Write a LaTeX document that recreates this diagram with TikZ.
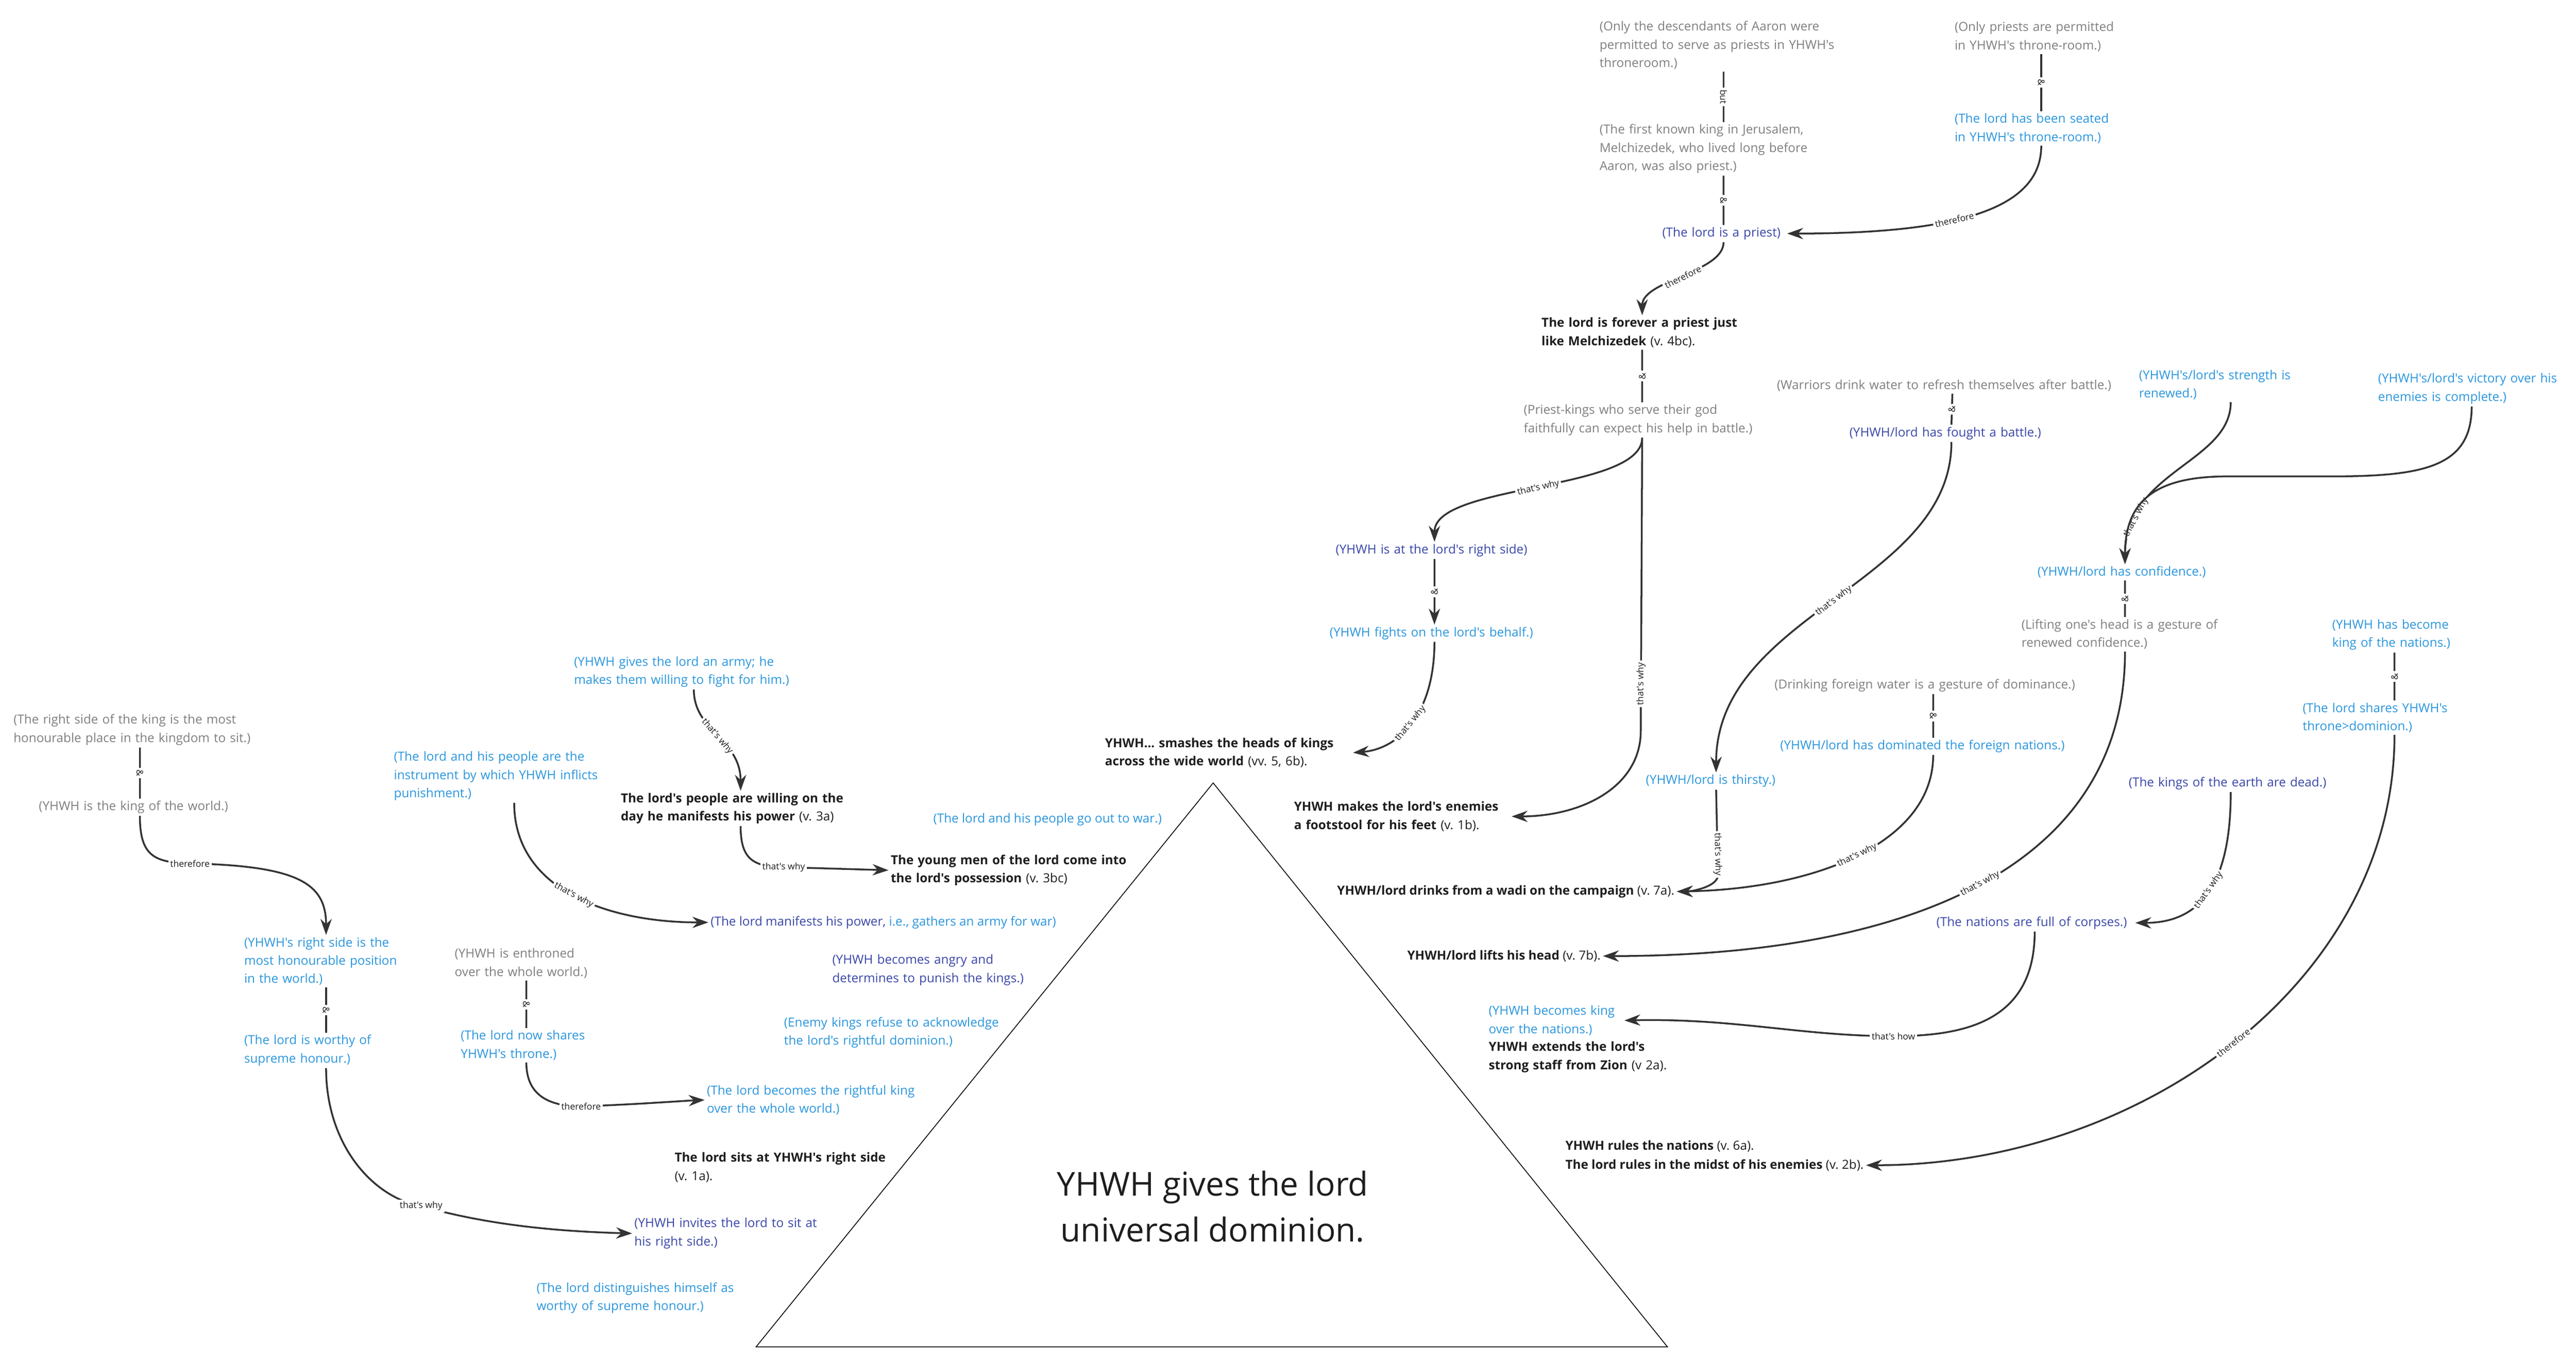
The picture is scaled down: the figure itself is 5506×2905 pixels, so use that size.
\documentclass[tikz,border=0pt]{standalone}
\usepackage{fontspec}
\setmainfont{Open Sans}[Ligatures=TeXOff]
\usepackage{tikz}
\usetikzlibrary{arrows.meta}
\frenchspacing

\definecolor{greytxt}{HTML}{7F7F7F}
\definecolor{paleblue}{HTML}{2B96DC}
\definecolor{deepblue}{HTML}{3A47A8}
\definecolor{inktxt}{HTML}{1E1E1E}
\definecolor{linkcol}{HTML}{333333}

\tikzset{
  txt/.style={anchor=base west, inner sep=0pt, outer sep=0.5mm, align=left,
    font=\fontsize{7.6}{11.1}\selectfont, execute at begin node={\hyphenpenalty=10000}},
  greynote/.style={txt, text=greytxt},
  palenote/.style={txt, text=paleblue},
  deepnote/.style={txt, text=deepblue},
  claim/.style={txt, text=inktxt},
  link/.style={draw=linkcol, line width=1.1pt},
  arr/.style={link, -{Stealth[length=3.4mm,width=2.4mm]}},
  lbl/.style={font=\fontsize{5.5}{6}\selectfont, fill=white, inner sep=1.2pt, sloped, text=inktxt},
}

\begin{document}
\begin{tikzpicture}[x=0.1mm, y=-0.1mm]
      \useasboundingbox (0,0) rectangle (5506,2905);
      \draw[line width=0.5pt] (2593,1673) -- (3564,2878) -- (1616,2878) -- cycle;
      \node[font=\fontsize{20}{28}\selectfont, align=center, text=inktxt] (dominion) at (2592,2578) {YHWH gives the lord\\universal dominion.};

      \node[greynote, text width=53mm] (onlyaaron) at (3414,66) {(Only the descendants of Aaron were\\permitted to serve as priests in YHWH's\\throneroom.)};
      \node[greynote, text width=37mm] (onlypriests) at (4173,67) {(Only priests are permitted\\in YHWH's throne-room.)};
      \node[greynote, text width=53mm] (firstking) at (3414,286) {(The first known king in Jerusalem,\\Melchizedek, who lived long before\\Aaron, was also priest.)};
      \node[palenote, text width=37mm] (seated) at (4173,263) {(The lord has been seated\\in YHWH's throne-room.)};
      \node[deepnote, text width=26.2mm] (priest) at (3548,506) {(The lord is a priest)};
      \node[claim, text width=43mm] (forever) at (3290,699) {\textbf{The lord is forever a priest just}\\\textbf{like Melchizedek} (v. 4bc).};
      \node[greynote, text width=50.6mm] (priestkings) at (3252,885) {(Priest-kings who serve their god\\faithfully can expect his help in battle.)};
      \node[greynote, text width=75mm] (warriors) at (3793,832) {(Warriors drink water to refresh themselves after battle.)};
      \node[deepnote, text width=43.6mm] (fought) at (3948,933) {(YHWH/lord has fought a battle.)};
      \node[deepnote, text width=42.2mm] (rightside) at (2850,1183) {(YHWH is at the lord's right side)};
      \node[palenote, text width=44.8mm] (fights) at (2837,1360) {(YHWH fights on the lord's behalf.)};
      \node[claim, text width=52.5mm] (smashes) at (2357,1597) {\textbf{YHWH... smashes the heads of kings}\\\textbf{across the wide world} (vv. 5, 6b).};
      \node[claim, text width=46mm] (footstool) at (2761,1733) {\textbf{YHWH makes the lord's enemies}\\\textbf{a footstool for his feet} (v. 1b).};
      \node[palenote, text width=30mm] (thirsty) at (3513,1676) {(YHWH/lord is thirsty.)};
      \node[greynote, text width=67.8mm] (drinkingwater) at (3788,1472) {(Drinking foreign water is a gesture of dominance.)};
      \node[palenote, text width=65.4mm] (dominated) at (3800,1602) {(YHWH/lord has dominated the foreign nations.)};
      \node[claim] (wadi) at (2853,1912) {\textbf{YHWH/lord drinks from a wadi on the campaign} (v. 7a).};

      \node[palenote, text width=39.2mm] (strength) at (4567,811) {(YHWH's/lord's strength is\\renewed.)};
      \node[palenote, text width=40mm] (victory) at (5078,818) {(YHWH's/lord's victory over his\\enemies is complete.)};
      \node[palenote, text width=37.4mm] (confidence) at (4350,1231) {(YHWH/lord has confidence.)};
      \node[greynote, text width=44.2mm] (liftinghead) at (4316,1344) {(Lifting one's head is a gesture of\\renewed confidence.)};
      \node[palenote, text width=26.6mm] (kingsnations) at (4980,1344) {(YHWH has become\\king of the nations.)};
      \node[palenote, text width=39.2mm] (sharesthrone) at (4917,1522) {(The lord shares YHWH's\\throne>dominion.)};
      \node[deepnote, text width=43.6mm] (kingsdead) at (4545,1681) {(The kings of the earth are dead.)};
      \node[deepnote, text width=42mm] (corpses) at (4134,1979) {(The nations are full of corpses.)};
      \node[claim] (lifts) at (3003,2051) {\textbf{YHWH/lord lifts his head} (v. 7b).};
      \node[palenote, text width=28.5mm] (becomesking) at (3177,2169) {(YHWH becomes king\\over the nations.)};
      \node[claim, text width=40mm] (extends) at (3177,2246) {\textbf{YHWH extends the lord's}\\\textbf{strong staff from Zion} (v 2a).};
      \node[claim] (rulesnations) at (3341,2457) {\textbf{YHWH rules the nations} (v. 6a).};
      \node[claim] (rulesmidst) at (3341,2498) {\textbf{The lord rules in the midst of his enemies} (v. 2b).};

      \node[greynote, text width=54mm] (rightsideking) at (24,1547) {(The right side of the king is the most\\honourable place in the kingdom to sit.)};
      \node[greynote, text width=43.2mm] (kingworld) at (78,1732) {(YHWH is the king of the world.)};
      \node[palenote, text width=35mm] (rightposition) at (517,2023) {(YHWH's right side is the\\most honourable position\\in the world.)};
      \node[palenote, text width=35mm] (worthy) at (517,2232) {(The lord is worthy of\\supreme honour.)};
      \node[deepnote, text width=44mm] (invites) at (1351,2623) {(YHWH invites the lord to sit at\\his right side.)};
      \node[palenote, text width=46mm] (distinguishes) at (1142,2761) {(The lord distinguishes himself as\\worthy of supreme honour.)};
      \node[claim, text width=48mm] (sitsright) at (1437,2483) {\textbf{The lord sits at YHWH's right side}\\(v. 1a).};
      \node[greynote, text width=30.6mm] (enthroned) at (967,2047) {(YHWH is enthroned\\over the whole world.)};
      \node[palenote, text width=28mm] (sharesyhwh) at (980,2222) {(The lord now shares\\YHWH's throne.)};
      \node[palenote, text width=48mm] (rightfulking) at (1506,2339) {(The lord becomes the rightful king\\over the whole world.)};
      \node[deepnote, text width=44mm] (angry) at (1774,2060) {(YHWH becomes angry and\\determines to punish the kings.)};
      \node[palenote, text width=49mm] (refuse) at (1671,2194) {(Enemy kings refuse to acknowledge\\the lord's rightful dominion.)};

      \node[palenote, text width=51.2mm] (army) at (1222,1423) {(YHWH gives the lord an army; he\\makes them willing to fight for him.)};
      \node[claim, text width=51.2mm] (willing) at (1322,1715) {\textbf{The lord's people are willing on the}\\\textbf{day he manifests his power} (v. 3a)};
      \node[claim, text width=54mm] (youngmen) at (1899,1847) {\textbf{The young men of the lord come into}\\\textbf{the lord's possession} (v. 3bc)};
      \node[palenote, text width=51.4mm] (instrument) at (837,1626) {(The lord and his people are the\\instrument by which YHWH inflicts\\punishment.)};
      \node[palenote] (manifests) at (1514,1978) {{\color{deepblue}(The lord manifests his power,} i.e., gathers an army for war)};
      \node[palenote] (goout) at (1990,1758) {(The lord and his people go out to war.)};

      \draw[link] (onlyaaron.south) -- node[lbl]{but} (firstking.north);
      \draw[link] (firstking.south) -- node[lbl]{\&} (priest.north);
      \draw[link] (onlypriests.south) -- node[lbl]{\&} (seated.north);
      \draw[arr] (seated.south) .. controls +(0,128) and +(385,0) .. node[lbl,pos=.6]{therefore} (priest.east);
      \draw[arr] (priest.south) .. controls +(0,65) and +(0,-75) .. node[lbl]{therefore} (forever.north);
      \draw[link] (forever.south) -- node[lbl]{\&} (priestkings.north);
      \draw[arr] (priestkings.south) .. controls +(0,115) and +(0,-125) .. node[lbl]{that's why} (rightside.north);
      \draw[arr] (priestkings.south) -- node[lbl,pos=.84]{that's why} ++(-3,626) .. controls +(0,120) and +(150,0) .. (footstool.east);
      \draw[arr] (rightside.south) -- node[lbl]{\&} (fights.north);
      \draw[arr] (fights.south) .. controls +(0,158) and +(95,-8) .. node[lbl]{that's why} (smashes.east);
      \draw[link] (warriors.south) -- node[lbl]{\&} (fought.north);
      \draw[arr] (fought.south) .. controls +(0,305) and +(0,-341) .. node[lbl]{that's why} (thirsty.north);
      \draw[arr] (thirsty.south) -- node[lbl,pos=.76]{that's why} ++(4,182) .. controls +(0,26) and +(30,0) .. (wadi.east);
      \draw[link] (drinkingwater.south) -- node[lbl]{\&} (dominated.north);
      \draw[arr] (dominated.south) .. controls +(0,187) and +(297,-5) .. node[lbl]{that's why} (wadi.east);

      \draw[arr] (strength.south) .. controls +(0,129) and +(0,-199) .. node[lbl,pos=.8]{that's why} (confidence.north);
      \draw[arr] (victory.south) .. controls +(0,130) and +(200,0) .. (4980,1018) -- (4760,1018) .. controls +(-160,0) and +(0,-130) .. (confidence.north);
      \draw[link] (confidence.south) -- node[lbl]{\&} (liftinghead.north);
      \draw[arr] (liftinghead.south) .. controls +(0,456) and +(662,0) .. node[lbl]{that's why} (lifts.east);
      \draw[link] (kingsnations.south) -- node[lbl]{\&} (sharesthrone.north);
      \draw[arr] (sharesthrone.south) .. controls +(0,528) and +(587,0) .. node[lbl]{therefore} (rulesmidst.east);
      \draw[arr] (kingsdead.south) .. controls +(0,187) and +(146,0) .. node[lbl]{that's why} (corpses.east);
      \draw[arr] (corpses.south) .. controls +(0,192) and +(153,0) .. (4047,2214) node[lbl]{that's how} .. controls +(-197,0) and +(238,-5) .. (becomesking.east);

      \draw[link] (rightsideking.south) -- node[lbl]{\&} (kingworld.north);
      \draw[arr] (kingworld.south) .. controls +(0,86) and +(-76,-2) .. (406,1845) node[lbl]{therefore} .. controls +(234,5) and +(0,-109) .. (rightposition.north);
      \draw[link] (rightposition.south) -- node[lbl]{\&} (worthy.north);
      \draw[arr] (worthy.south) .. controls +(0,167) and +(-100,-17) .. (900,2577) node[lbl]{that's why} .. controls +(150,43) and +(-146,-4) .. (invites.west);
      \draw[link] (enthroned.south) -- node[lbl]{\&} (sharesyhwh.north);
      \draw[arr] (sharesyhwh.south) .. controls +(0,68) and +(-72,0) .. (1242,2364) node[lbl]{therefore} .. controls +(120,-4) and +(-50,2) .. (rightfulking.west);
      \draw[arr] (army.south) .. controls +(0,90) and +(0,-111) .. node[lbl]{that's why} (willing.north);
      \draw[arr] (willing.south) .. controls +(0,71) and +(-65,-1) .. (1675,1853) node[lbl]{that's why} -- (youngmen.west);
      \draw[arr] (instrument.south) .. controls +(0,186) and +(-214,0) .. node[lbl]{that's why} (manifests.west);
    \end{tikzpicture}
\end{document}
